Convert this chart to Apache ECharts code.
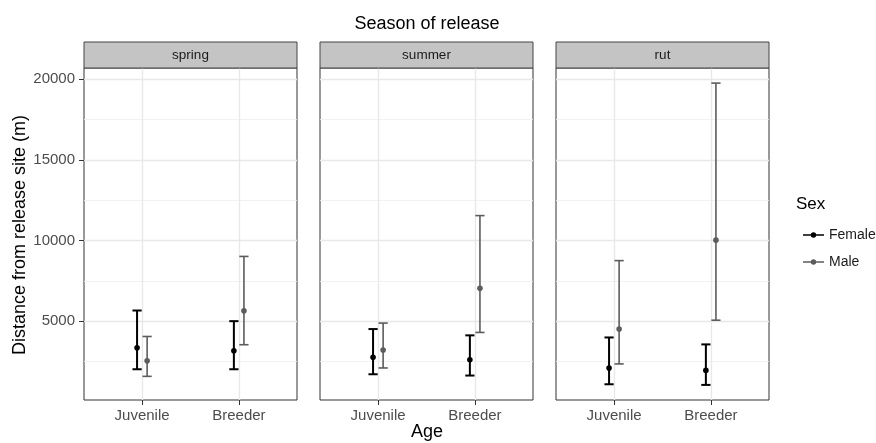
<!DOCTYPE html>
<html>
<head>
<meta charset="utf-8">
<script src="https://cdn.jsdelivr.net/npm/echarts@6/dist/echarts.min.js"></script>
<style>html,body{margin:0;padding:0;background:#fff}#c{width:876px;height:443px}</style>
</head>
<body>
<div id="c"></div>
<script>
// ---- data ----
var categories = ['Juvenile', 'Breeder'];
var seasons = ['spring', 'summer', 'rut'];
var sexes = ['Female', 'Male'];
// [season][age]
var femaleMean = [[3350, 3170], [2760, 2610], [2100, 1950]];
var femaleLow  = [[2020, 2020], [1710, 1630], [1090, 1050]];
var femaleHigh = [[5660, 5000], [4510, 4120], [3990, 3560]];
var maleMean   = [[2550, 5640], [3210, 7040], [4510, 10020]];
var maleLow    = [[1580, 3540], [2100, 4300], [2350, 5060]];
var maleHigh   = [[4050, 9010], [4880, 11540], [8750, 19750]];
var yTicks = [5000, 10000, 15000, 20000];
var yMinor = [2500, 7500, 12500, 17500];

// ---- layout / style ----
var panelLeft = [84, 320, 556];
var panelWidth = 213;
var panelTop = 68, panelHeight = 332;
var stripTop = 42, stripHeight = 26;
var colors = { Female: '#000000', Male: '#5c5c5c' };
var lineW = { Female: 2, Male: 1.6 };
var dodge = { Female: -0.052, Male: 0.052 };

var allVals = [].concat.apply([], femaleLow.concat(femaleHigh, maleLow, maleHigh));
var dMin = Math.min.apply(null, allVals), dMax = Math.max.apply(null, allVals);
var pad = (dMax - dMin) * 0.05;
var yMin = dMin - pad, yMax = dMax + pad;

var chart = echarts.init(document.getElementById('c'));
var grids = [], xAxes = [], yAxes = [], series = [], graphics = [];

function renderItem(sex) {
  return function (params, api) {
    var x = api.value(0) + dodge[sex];
    var lo = api.coord([x, api.value(1)]);
    var mid = api.coord([x, api.value(2)]);
    var hi = api.coord([x, api.value(3)]);
    var cw = 4.6;
    var st = { stroke: colors[sex], lineWidth: lineW[sex] };
    return {
      type: 'group',
      children: [
        { type: 'line', shape: { x1: lo[0], y1: lo[1], x2: hi[0], y2: hi[1] }, style: st },
        { type: 'line', shape: { x1: lo[0] - cw, y1: lo[1], x2: lo[0] + cw, y2: lo[1] }, style: st },
        { type: 'line', shape: { x1: hi[0] - cw, y1: hi[1], x2: hi[0] + cw, y2: hi[1] }, style: st },
        { type: 'circle', shape: { cx: mid[0], cy: mid[1], r: 2.8 }, style: { fill: colors[sex] } }
      ]
    };
  };
}

for (var i = 0; i < 3; i++) {
  grids.push({ left: panelLeft[i], top: panelTop, width: panelWidth, height: panelHeight,
    show: true, borderColor: '#333', borderWidth: 1, backgroundColor: '#fff' });
  xAxes.push({ type: 'value', gridIndex: i, min: 0.4, max: 2.6,
    axisLine: { show: false },
    axisTick: { show: true, customValues: [1, 2], length: 5, lineStyle: { color: '#333' } },
    axisLabel: { customValues: [1, 2], margin: 8, fontSize: 15, color: '#4d4d4d', fontFamily: 'Liberation Sans',
      formatter: function (v) { return categories[Math.round(v) - 1]; } },
    splitLine: { show: true, lineStyle: { color: '#e8e8e8', width: 1.4 } }
  });
  yAxes.push({ type: 'value', gridIndex: i, min: yMin, max: yMax,
    axisLine: { show: false },
    axisTick: { show: i === 0, customValues: yTicks, length: 5, lineStyle: { color: '#333' } },
    axisLabel: { show: i === 0, customValues: yTicks, margin: 9, fontSize: 15, color: '#4d4d4d', fontFamily: 'Liberation Sans',
      formatter: function (v) { return String(Math.round(v)); } },
    splitLine: { show: true, lineStyle: { color: '#e8e8e8', width: 1.4 } }
  });
  yAxes.push({ type: 'value', gridIndex: i, min: yMin, max: yMax,
    axisLine: { show: false },
    axisTick: { show: false, customValues: yMinor },
    axisLabel: { show: false, customValues: yMinor },
    splitLine: { show: true, lineStyle: { color: '#efefef', width: 0.8 } }
  });
  [['Female', femaleLow, femaleMean, femaleHigh], ['Male', maleLow, maleMean, maleHigh]].forEach(function (s) {
    var data = categories.map(function (c, j) { return [j + 1, s[1][i][j], s[2][i][j], s[3][i][j]]; });
    series.push({ type: 'custom', name: s[0], xAxisIndex: i, yAxisIndex: 2 * i,
      itemStyle: { color: colors[s[0]] },
      encode: { x: 0, y: [1, 2, 3] },
      renderItem: renderItem(s[0]), data: data, z: 5 });
  });
  graphics.push({ type: 'rect', shape: { x: panelLeft[i], y: stripTop, width: panelWidth, height: stripHeight },
    style: { fill: '#c4c4c4', stroke: '#444', lineWidth: 1 } , z: 10});
  graphics.push({ type: 'text', x: panelLeft[i] + panelWidth / 2, y: stripTop + stripHeight / 2,
    style: { text: seasons[i], align: 'center', verticalAlign: 'middle', fontSize: 13.5, fill: '#1a1a1a', fontFamily: 'Liberation Sans' }, z: 11 });
}

graphics.push({ type: 'text', x: 427, y: 24, style: { text: 'Season of release', align: 'center', verticalAlign: 'middle', fontSize: 18, fill: '#000', fontFamily: 'Liberation Sans' } });
graphics.push({ type: 'text', x: 427, y: 432, style: { text: 'Age', align: 'center', verticalAlign: 'middle', fontSize: 18, fill: '#000', fontFamily: 'Liberation Sans' } });
graphics.push({ type: 'text', x: 20, y: 235, rotation: Math.PI / 2, style: { text: 'Distance from release site (m)', align: 'center', verticalAlign: 'middle', fontSize: 18, fill: '#000', fontFamily: 'Liberation Sans' } });
graphics.push({ type: 'text', x: 796, y: 204, style: { text: 'Sex', align: 'left', verticalAlign: 'middle', fontSize: 17, fill: '#000', fontFamily: 'Liberation Sans' } });

chart.setOption({
  animation: false,
  grid: grids, xAxis: xAxes, yAxis: yAxes, series: series,
  legend: {
    data: sexes, orient: 'vertical', left: 798, top: 223, itemGap: 13,
    itemWidth: 21, itemHeight: 6,
    icon: 'path://M0,2.2H21V3.8H0Z M7.8,3A2.7,2.7 0 1 1 13.2,3A2.7,2.7 0 1 1 7.8,3Z',
    textStyle: { fontSize: 14, color: '#1a1a1a', fontFamily: 'Liberation Sans' },
    selectedMode: false
  },
  graphic: graphics
});
</script>
</body>
</html>
